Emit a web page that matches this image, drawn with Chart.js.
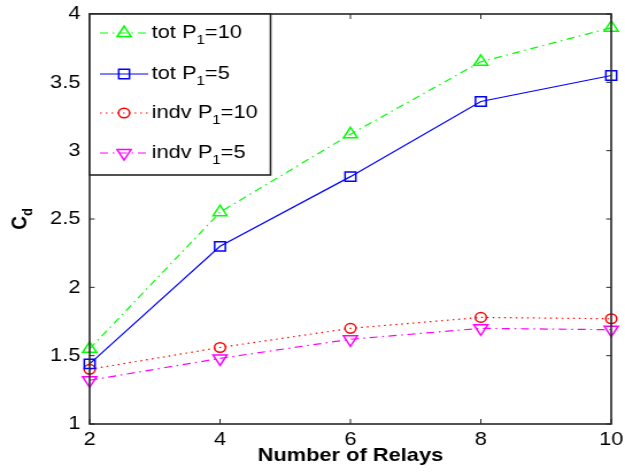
<!DOCTYPE html>
<html>
<head>
<meta charset="utf-8">
<style>
html,body{margin:0;padding:0;background:#fff;overflow:hidden}
</style>
<script src="https://cdn.jsdelivr.net/npm/chart.js@4.4.1/dist/chart.umd.min.js"></script>
</head>
<body>
<canvas id="c" width="544" height="473" style="display:block;width:625px;height:473px"></canvas>
<script>
// ---- data ----
const relays = [2, 4, 6, 8, 10];
const totP10 = [1.55, 2.55, 3.12, 3.65, 3.90];
const totP5 = [1.44, 2.30, 2.81, 3.36, 3.55];
const indvP10 = [1.40, 1.56, 1.70, 1.78, 1.77];
const indvP5 = [1.32, 1.48, 1.62, 1.70, 1.69];
const xTickLabels = ['2', '4', '6', '8', '10'];
const yTickLabels = ['1', '1.5', '2', '2.5', '3', '3.5', '4'];
const legendMain = ['tot P', 'tot P', 'indv P', 'indv P'];
const legendSub = ['1', '1', '1', '1'];
const legendTail = ['=10', '=5', '=10', '=5'];
const xTitle = 'Number of Relays';
const yTitleMain = 'C';
const yTitleSub = 'd';

const FONT = '"Liberation Sans", Arial, Helvetica, sans-serif';
const SX = 625 / 544; // horizontal stretch of the canvas

const styles = [
  {color: '#00ff00', dash: [7, 4, 1.5, 4], pointStyle: 'triangle', radius: 7, rotation: 0},
  {color: '#0000ff', dash: [], pointStyle: 'rect', radius: 6.6, rotation: 0},
  {color: '#ff0000', dash: [1.5, 3.5], pointStyle: 'circle', radius: 4.8, rotation: 0},
  {color: '#ff00ff', dash: [7, 4, 1.5, 4], pointStyle: 'triangle', radius: 7, rotation: 180}
];
const series = [totP10, totP5, indvP10, indvP5];

const datasets = series.map((vals, i) => ({
  label: legendMain[i] + legendSub[i] + legendTail[i],
  data: relays.map((r, k) => ({x: r, y: vals[k]})),
  borderColor: styles[i].color,
  borderWidth: 1.2,
  borderDash: styles[i].dash,
  pointStyle: styles[i].pointStyle,
  pointRadius: styles[i].radius,
  pointRotation: styles[i].rotation,
  pointBorderColor: styles[i].color,
  pointBackgroundColor: 'rgba(0,0,0,0)',
  pointBorderWidth: 1.5,
  tension: 0,
  fill: false,
  clip: false
}));

function drawMarker(ctx, style, x, y, r, rot) {
  ctx.beginPath();
  if (style === 'circle') {
    ctx.arc(x, y, r, 0, Math.PI * 2);
  } else if (style === 'rect') {
    const s = Math.SQRT1_2 * r;
    ctx.rect(x - s, y - s, 2 * s, 2 * s);
  } else {
    let rad = rot * Math.PI / 180;
    ctx.moveTo(x + Math.sin(rad) * r, y - Math.cos(rad) * r);
    rad += 2 * Math.PI / 3;
    ctx.lineTo(x + Math.sin(rad) * r, y - Math.cos(rad) * r);
    rad += 2 * Math.PI / 3;
    ctx.lineTo(x + Math.sin(rad) * r, y - Math.cos(rad) * r);
    ctx.closePath();
  }
  ctx.stroke();
}

const framePlugin = {
  id: 'frame',
  afterDatasetsDraw(chart) {
    const {ctx, chartArea: a, scales} = chart;
    const xs = scales.x, ys = scales.y;
    ctx.save();
    ctx.strokeStyle = '#262626';
    ctx.lineWidth = 1;
    ctx.setLineDash([]);
    const tl = 5;
    xs.ticks.forEach(t => {
      const px = xs.getPixelForValue(t.value);
      ctx.beginPath();
      ctx.moveTo(px, a.bottom); ctx.lineTo(px, a.bottom - tl);
      ctx.moveTo(px, a.top); ctx.lineTo(px, a.top + tl);
      ctx.stroke();
    });
    ys.ticks.forEach(t => {
      const py = ys.getPixelForValue(t.value);
      ctx.beginPath();
      ctx.moveTo(a.left, py); ctx.lineTo(a.left + tl / SX, py);
      ctx.moveTo(a.right, py); ctx.lineTo(a.right - tl / SX, py);
      ctx.stroke();
    });
    ctx.lineWidth = 1.6;
    ctx.strokeRect(a.left, a.top, a.right - a.left, a.bottom - a.top);
    ctx.restore();
  },
  afterDraw(chart) {
    const {ctx, chartArea: a} = chart;
    ctx.save();
    // legend box
    const lx = a.left, ly = a.top, lw = 157.5, lh = 161;
    ctx.fillStyle = '#fff';
    ctx.fillRect(lx, ly, lw, lh);
    ctx.strokeStyle = '#262626';
    ctx.lineWidth = 1.6;
    ctx.strokeRect(lx, ly, lw, lh);
    const rows = [33, 74, 113, 153];
    rows.forEach((ry, i) => {
      const st = styles[i];
      ctx.strokeStyle = st.color;
      ctx.lineWidth = 1.2;
      ctx.setLineDash(st.dash);
      ctx.beginPath();
      ctx.moveTo(87, ry); ctx.lineTo(129, ry);
      ctx.stroke();
      ctx.setLineDash([]);
      ctx.lineWidth = 1.5;
      drawMarker(ctx, st.pointStyle, 108, ry, st.radius, st.rotation);
      ctx.fillStyle = '#000';
      ctx.textBaseline = 'middle';
      ctx.textAlign = 'left';
      ctx.font = '19px ' + FONT;
      let tx = 132;
      ctx.fillText(legendMain[i], tx, ry);
      tx += ctx.measureText(legendMain[i]).width;
      ctx.font = '13px ' + FONT;
      ctx.fillText(legendSub[i], tx, ry + 7);
      tx += ctx.measureText(legendSub[i]).width;
      ctx.font = '19px ' + FONT;
      ctx.fillText(legendTail[i], tx, ry);
    });
    // x title
    ctx.fillStyle = '#000';
    ctx.font = 'bold 19px ' + FONT;
    ctx.textAlign = 'center';
    ctx.textBaseline = 'middle';
    ctx.fillText(xTitle, (a.left + a.right) / 2, 456);
    // y title (rotated, with subscript)
    ctx.save();
    ctx.translate(18, (a.top + a.bottom) / 2);
    ctx.rotate(-Math.PI / 2);
    ctx.font = 'bold 19px ' + FONT;
    const w1 = ctx.measureText(yTitleMain).width;
    ctx.font = 'bold 13px ' + FONT;
    const w2 = ctx.measureText(yTitleSub).width;
    const start = -(w1 + w2) / 2;
    ctx.textAlign = 'left';
    ctx.font = 'bold 19px ' + FONT;
    ctx.fillText(yTitleMain, start, 0);
    ctx.font = 'bold 13px ' + FONT;
    ctx.fillText(yTitleSub, start + w1, 6);
    ctx.restore();
    ctx.restore();
  }
};

new Chart(document.getElementById('c'), {
  type: 'line',
  data: {datasets},
  options: {
    responsive: false,
    animation: false,
    devicePixelRatio: 1,
    layout: {padding: {left: 0, right: 12, top: 14, bottom: 0}},
    plugins: {legend: {display: false}, tooltip: {enabled: false}},
    scales: {
      x: {
        type: 'linear', min: 2, max: 10,
        border: {display: false},
        grid: {display: false, drawTicks: false},
        ticks: {
          stepSize: 2, padding: 4, color: '#000', maxRotation: 0,
          font: {family: FONT, size: 19},
          callback: (v, i) => xTickLabels[i]
        },
        afterFit: s => { s.height = 49; s.paddingLeft = 0; s.paddingRight = 0; }
      },
      y: {
        type: 'linear', min: 1, max: 4,
        border: {display: false},
        grid: {display: false, drawTicks: false},
        ticks: {
          stepSize: 0.5, padding: 8, color: '#000',
          font: {family: FONT, size: 19},
          callback: (v, i) => yTickLabels[i]
        },
        afterFit: s => { s.width = 78; s.paddingTop = 0; s.paddingBottom = 0; }
      }
    }
  },
  plugins: [framePlugin]
});
</script>
</body>
</html>
